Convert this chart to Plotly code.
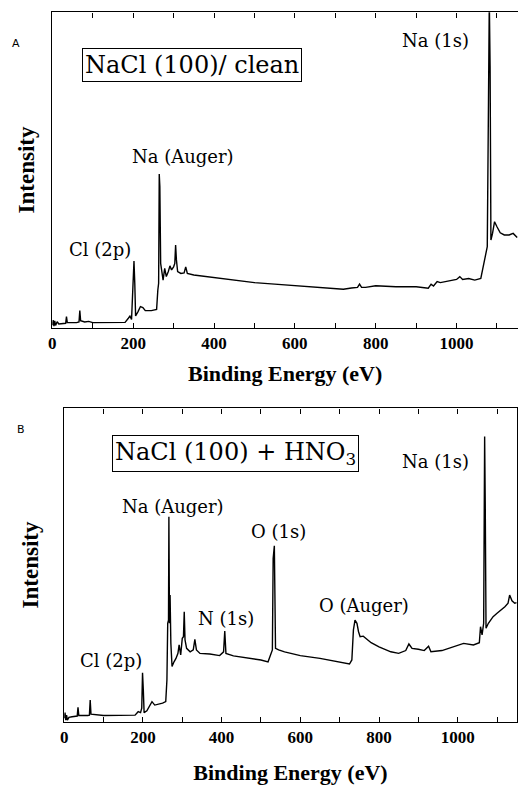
import plotly.graph_objects as go

# ---------------- data (arbitrary intensity units) ----------------
energy_a = [0, 2, 4, 6, 8, 12, 16, 25, 33, 35, 37, 60, 66, 68, 70, 80, 90, 100, 150, 180,
            188, 192, 196, 200, 202, 204, 206, 212, 218, 224, 230, 245, 258, 261, 263, 264.5,
            266, 268, 271, 274, 278, 282, 287, 291, 295, 300, 303, 305, 307, 310, 318, 326,
            330, 334, 350, 400, 450, 500, 550, 600, 650, 700, 720, 740, 755, 760, 765, 775,
            800, 850, 900, 930, 937, 943, 952, 960, 980, 1000, 1008, 1015, 1030, 1045, 1060,
            1066, 1070, 1073, 1076, 1079, 1081, 1083, 1085, 1089, 1094, 1100, 1108, 1118,
            1130, 1140, 1150]
intensity_a = [0.8, 2.4, 0.5, 2.2, 0.7, 1.9, 1.2, 1.4, 1.4, 3.5, 1.6, 1.6, 1.8, 5.4, 2.2, 1.8,
               2.0, 1.6, 1.6, 1.7, 3.0, 3.7, 2.6, 15.1, 21.1, 14.1, 3.7, 5.1, 6.7, 6.4, 5.4,
               5.4, 5.8, 11.9, 14.1, 48.7, 44.7, 20.4, 17.2, 15.1, 18.8, 16.2, 17.8, 19.6,
               18.3, 19.3, 20.4, 26.2, 21.5, 17.8, 17.2, 17.4, 19.3, 17.2, 16.7, 15.9, 15.1,
               14.3, 13.8, 13.3, 13.0, 12.5, 12.2, 12.6, 12.8, 13.8, 12.8, 12.8, 13.3, 13.0,
               13.0, 12.5, 13.8, 13.2, 14.6, 14.3, 14.9, 15.3, 16.2, 15.3, 15.6, 15.1, 15.6,
               19.3, 21.5, 23.6, 25.7, 72.0, 104.0, 82.8, 27.8, 29.9, 33.6, 32.0, 30.1, 29.4,
               29.4, 29.9, 28.6]

energy_b = [0, 2, 4, 6, 8, 12, 20, 33, 35, 37, 60, 64, 66, 68, 100, 150, 180, 188, 194, 197,
            199, 201, 203, 210, 218, 223, 230, 240, 250, 258, 261, 263, 265, 266, 267.5, 269,
            271, 274, 279, 284, 289, 292, 296, 300, 303, 305, 307, 311, 320, 328, 332, 336,
            345, 370, 395, 405, 408, 411, 430, 460, 500, 518, 525, 529, 531, 534, 537, 545,
            560, 600, 650, 700, 725, 731, 735, 739, 744, 748, 752, 760, 780, 800, 830, 850,
            868, 876, 884, 900, 915, 926, 932, 960, 985, 1005, 1015, 1040, 1055, 1058, 1062,
            1066, 1068.5, 1070, 1072, 1078, 1090, 1100, 1110, 1120, 1128, 1132, 1138, 1145,
            1150]
intensity_b = [1.1, 2.9, 0.5, 2.1, 0.5, 1.4, 1.6, 1.8, 4.6, 2.0, 2.0, 2.1, 6.9, 2.4, 2.0, 2.0,
               2.1, 3.2, 2.9, 4.3, 15.6, 10.1, 2.9, 3.5, 5.3, 6.4, 5.3, 5.6, 5.9, 6.4, 13.3,
               31.4, 32.4, 65.4, 31.4, 40.4, 25.0, 17.6, 19.1, 20.2, 21.8, 24.5, 21.3, 26.6,
               27.1, 35.1, 26.1, 23.4, 22.3, 22.9, 26.3, 22.9, 21.8, 21.6, 21.1, 22.3, 28.9,
               21.8, 21.0, 20.5, 19.7, 19.1, 21.3, 22.9, 52.1, 56.1, 23.4, 22.9, 22.3, 21.1,
               20.2, 19.1, 18.4, 19.7, 29.3, 32.4, 31.4, 28.7, 27.1, 27.3, 25.2, 23.9, 22.3,
               21.8, 22.7, 24.8, 23.4, 23.1, 22.7, 24.1, 22.3, 22.7, 23.7, 24.5, 25.0, 24.5,
               25.2, 30.3, 27.7, 31.4, 91.0, 70.2, 29.8, 31.4, 33.5, 34.6, 35.6, 36.7, 37.8,
               40.4, 38.6, 37.8, 38.0]

major_ticks = [0, 200, 400, 600, 800, 1000]
major_labels = ["0", "200", "400", "600", "800", "1000"]
minor_ticks = [100, 300, 500, 700, 900, 1100]

peak_labels_a = ["Na (1s)", "Na (Auger)", "Cl (2p)"]
peak_labels_b = ["Na (1s)", "Na (Auger)", "O (1s)", "N (1s)", "O (Auger)", "Cl (2p)"]

# ---------------- figure ----------------
W, H = 518, 785
fig = go.Figure()
fig.add_trace(go.Scatter(x=energy_a, y=intensity_a, mode="lines",
                         line=dict(color="black", width=1.4), xaxis="x", yaxis="y",
                         showlegend=False, hoverinfo="skip"))
fig.add_trace(go.Scatter(x=energy_b, y=intensity_b, mode="lines",
                         line=dict(color="black", width=1.4), xaxis="x2", yaxis="y2",
                         showlegend=False, hoverinfo="skip"))

tick_font = dict(family="Liberation Serif", size=17, color="black")
xtitle_font = dict(family="Liberation Serif", size=22, color="black")
ytitle_font = dict(family="Liberation Serif", size=23, color="black")

def xax(domain, anchor, rng, standoff):
    return dict(domain=domain, anchor=anchor, range=rng, showline=True, linecolor="black",
                linewidth=1.4, mirror="allticks", ticks="inside", ticklen=5, tickwidth=1.2,
                tickcolor="black", tickvals=major_ticks,
                ticktext=["<b>%s</b>" % t for t in major_labels],
                minor=dict(tickvals=minor_ticks, ticks="inside", ticklen=5, tickwidth=1.2,
                           tickcolor="black", showgrid=False),
                tickfont=tick_font, showgrid=False, zeroline=False,
                title=dict(text="<b>Binding Energy (eV)</b>", font=xtitle_font,
                           standoff=standoff))

def yax(domain, anchor, standoff, mirror):
    return dict(domain=domain, anchor=anchor, range=[0, 100], showline=True,
                linecolor="black", linewidth=1.4, ticks="", showticklabels=False,
                mirror=mirror, showgrid=False, zeroline=False,
                title=dict(text="<b>Intensity</b>", font=ytitle_font, standoff=standoff))

fig.update_layout(
    width=W, height=H, margin=dict(l=0, r=0, t=0, b=0),
    paper_bgcolor="white", plot_bgcolor="white",
    xaxis=xax([48.7 / W, 1.0], "y", [0, 1152], 13),
    yaxis=yax([1 - 327.7 / H, 1 - 12.3 / H], "x", 10, False),
    xaxis2=xax([60.7 / W, 516.7 / W], "y2", [0, 1150], 18),
    yaxis2=yax([1 - 721.7 / H, 1 - 408.3 / H], "x2", 17, True),
)

lab_font = dict(family="DejaVu Serif", size=18, color="black")
box_font = dict(family="DejaVu Serif", size=24, color="black")

def pix(x, y):
    return dict(xref="paper", yref="paper", x=x / W, y=1 - y / H,
                xanchor="center", yanchor="middle", showarrow=False)

annos = []
# panel letters
annos.append(dict(**pix(12, 44), text="A", font=dict(family="DejaVu Sans", size=11, color="black")))
annos.append(dict(**pix(16.7, 429), text="B", font=dict(family="DejaVu Sans", size=11, color="black")))
# boxes
annos.append(dict(**pix(189.5, 65.5), text="NaCl (100)/ clean", font=box_font,
                  bordercolor="black", borderwidth=1, borderpad=2, bgcolor="white"))
annos.append(dict(**pix(233, 453.5), text="NaCl (100) + HNO<sub>3</sub>", font=box_font,
                  bordercolor="black", borderwidth=1, borderpad=2, bgcolor="white"))
# peak labels panel A
pos_a = [(435, 41), (180, 157), (97, 250)]
for t, (px, py) in zip(peak_labels_a, pos_a):
    annos.append(dict(**pix(px, py), text=t, font=lab_font))
# peak labels panel B
pos_b = [(435, 461.7), (170, 506.7), (276.7, 531.7), (224, 618.3), (363.3, 605), (108.3, 660)]
for t, (px, py) in zip(peak_labels_b, pos_b):
    annos.append(dict(**pix(px, py), text=t, font=lab_font))

fig.update_layout(annotations=annos)
fig.write_html("out.html")
